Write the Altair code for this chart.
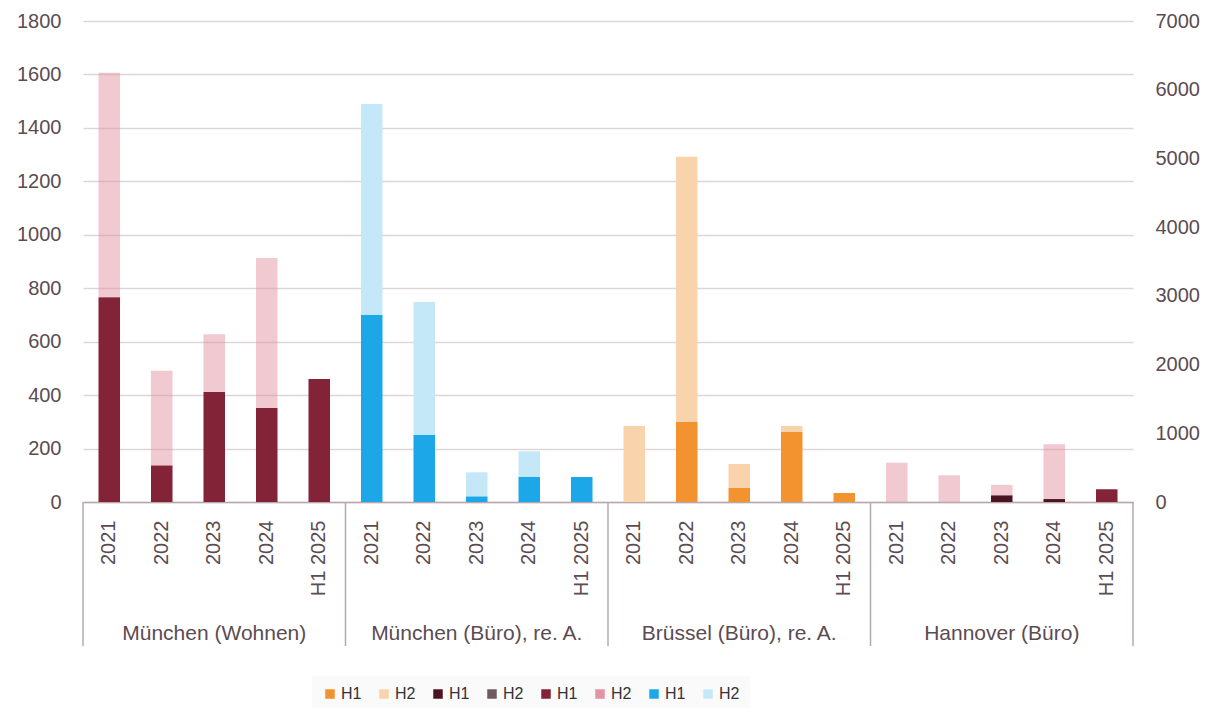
import altair as alt
import pandas as pd

groups = ["München (Wohnen)", "München (Büro), re. A.", "Brüssel (Büro), re. A.", "Hannover (Büro)"]
years = ["2021", "2022", "2023", "2024", "H1 2025"]

# München (Wohnen) – left axis
mw_h1 = [766, 137, 412, 352, 460]
mw_h2 = [840, 354, 216, 561, 0]
# München (Büro) – right axis
mb_h1 = [2722, 975, 83, 368, 364]
mb_h2 = [3070, 1936, 349, 370, 0]
# Brüssel (Büro) – right axis
br_h1 = [0, 1165, 204, 1019, 131]
br_h2 = [1106, 3861, 349, 87, 0]
# Hannover (Büro) – left axis
ha_h1_dark = [0, 0, 25, 11, 0]
ha_h1 = [0, 0, 0, 0, 48]
ha_h2 = [147, 100, 39, 205, 0]

series_ids = ["1|H1", "2|H2", "3|H1", "4|H2", "5|H1", "6|H2", "7|H1", "8|H2"]
series_colors = ["#f29330", "#f9d3ab", "#4a1520", "#6e5a62", "#832338", "#e393a3", "#1ca8e8", "#c5e8f8"]

keys = [f"{gi}|{y}" for gi in range(len(groups)) for y in years]

def rows(gi, pairs):
    out = []
    for sid, vals, order in pairs:
        for y, v in zip(years, vals):
            out.append({"key": f"{gi}|{y}", "series": sid, "value": v, "ord": order})
    return out

left_rows = rows(0, [("5|H1", mw_h1, 0), ("6|H2", mw_h2, 2)]) + \
    rows(3, [("3|H1", ha_h1_dark, 0), ("5|H1", ha_h1, 1), ("6|H2", ha_h2, 2)])
right_rows = rows(1, [("7|H1", mb_h1, 0), ("8|H2", mb_h2, 2)]) + \
    rows(2, [("1|H1", br_h1, 0), ("2|H2", br_h2, 2)])

left_df = pd.DataFrame(left_rows)
right_df = pd.DataFrame(right_rows)

W, H = 1050, 481
STEP = W / len(keys)
FONT = "Liberation Sans"
TXT = "#5b4b52"
LINE = "#b7a7ae"

x_enc = alt.X(
    "key:N",
    scale=alt.Scale(domain=keys, paddingInner=0.59, paddingOuter=0.295),
    sort=None,
    axis=alt.Axis(
        title=None, labelExpr="split(datum.label, '|')[1]", labelAngle=270,
        labelPadding=18, labelFontSize=20, labelFont=FONT, labelColor=TXT,
        ticks=False, domain=True, domainColor=LINE, domainWidth=1.5, grid=False,
    ),
)

color_enc = alt.Color(
    "series:N",
    scale=alt.Scale(domain=series_ids, range=series_colors),
    legend=alt.Legend(
        title=None, orient="none", direction="horizontal", columns=8,
        legendX=229, legendY=655, labelExpr="split(datum.label, '|')[1]",
        symbolType="square", symbolSize=90, symbolStrokeWidth=0,
        labelFontSize=16, labelFont=FONT, labelColor="#333333",
        labelOffset=3, columnPadding=14, padding=10, fillColor="#fafafa",
    ),
)

opacity_enc = alt.condition("datum.series == '6|H2'", alt.value(0.5), alt.value(1.0))

left = alt.Chart(left_df).mark_bar().encode(
    x=x_enc,
    y=alt.Y("value:Q", stack="zero",
            scale=alt.Scale(domain=[0, 1800], nice=False),
            axis=alt.Axis(title=None, orient="left", values=list(range(0, 1801, 200)),
                          format="d", domain=False, ticks=False, grid=True,
                          gridColor="#ddd5d8", gridWidth=1.5, labelPadding=22,
                          labelFontSize=20, labelFont=FONT, labelColor=TXT)),
    color=color_enc,
    order=alt.Order("ord:Q", sort="ascending"),
    opacity=opacity_enc,
)

right = alt.Chart(right_df).mark_bar().encode(
    x=x_enc,
    y=alt.Y("value:Q", stack="zero",
            scale=alt.Scale(domain=[0, 7000], nice=False),
            axis=alt.Axis(title=None, orient="right", values=list(range(0, 7001, 1000)),
                          format="d", domain=False, ticks=False, grid=False,
                          labelPadding=22, labelFontSize=20, labelFont=FONT,
                          labelColor=TXT)),
    color=color_enc,
    order=alt.Order("ord:Q", sort="ascending"),
)

start_df = pd.DataFrame({"key": [f"{gi}|{years[0]}" for gi in range(len(groups))]})
end_df = pd.DataFrame({"key": [keys[-1]]})

sep_start = alt.Chart(start_df).mark_rule(color=LINE, strokeWidth=1.5, xOffset=-STEP / 2).encode(
    x=x_enc, y=alt.value(H), y2=alt.value(H + 144))
sep_end = alt.Chart(end_df).mark_rule(color=LINE, strokeWidth=1.5, xOffset=STEP / 2).encode(
    x=x_enc, y=alt.value(H), y2=alt.value(H + 144))

label_df = pd.DataFrame({"key": [f"{gi}|{years[2]}" for gi in range(len(groups))], "name": groups})
group_labels = alt.Chart(label_df).mark_text(
    fontSize=21, font=FONT, color=TXT, baseline="middle", align="center"
).encode(x=x_enc, y=alt.value(H + 132), text="name:N")

chart = alt.layer(left, right, sep_start, sep_end, group_labels).resolve_scale(
    y="independent"
).properties(
    width=W, height=H,
    padding={"left": 83, "top": 21, "right": 84, "bottom": 206},
    autosize="none",
).configure_view(stroke=None)

chart.save("out.html", embed_options={"renderer": "svg", "actions": False})
